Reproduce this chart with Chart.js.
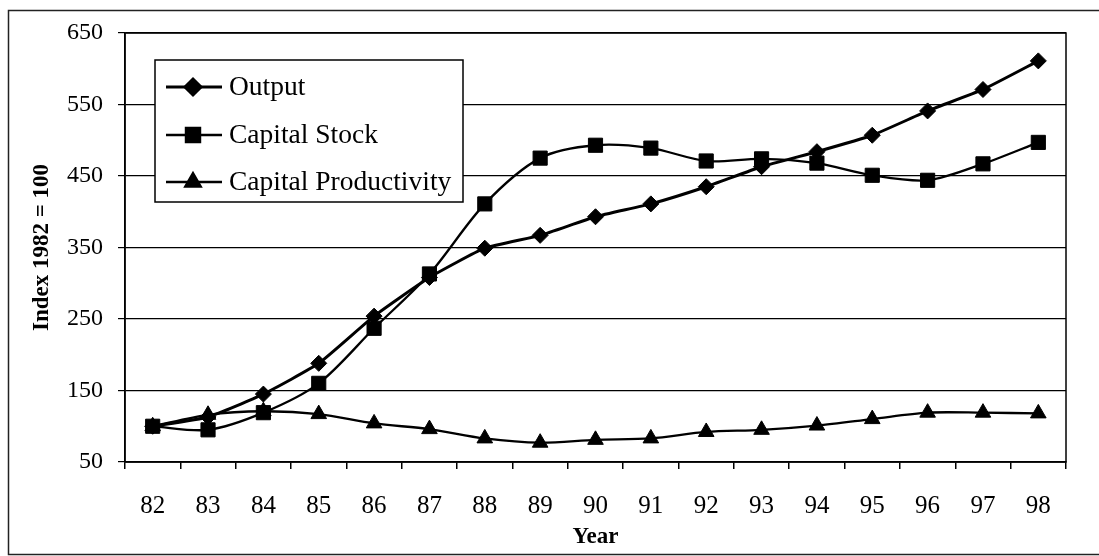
<!DOCTYPE html>
<html>
<head>
<meta charset="utf-8">
<script src="https://cdn.jsdelivr.net/npm/chart.js@4/dist/chart.umd.min.js"></script>
<style>
  html, body { margin: 0; padding: 0; background: #fff; }
  #wrap { position: relative; width: 1099px; height: 556px; }
  canvas { display: block; }
</style>
</head>
<body>
<div id="wrap"><canvas id="c" width="1099" height="556"></canvas></div>
<script>
const years = ['82','83','84','85','86','87','88','89','90','91','92','93','94','95','96','97','98'];
const output = [100,113,145,188,254,308,349,367,393,411,435,463,484,507,541,571,611];
const capitalStock = [100,95,119,160,237,313,411,475,493,489,471,474,468,451,444,467,497];
const capitalProductivity = [100,116,121,117,104,96,83,77,81,83,92,95,101,110,119,119,118];
const seriesNames = ['Output','Capital Stock','Capital Productivity'];
const yMin = 50, yMax = 650, yStep = 100;

const FONT = "'Liberation Serif', 'Times New Roman', serif";

const framePlugin = {
  id: 'frame',
  beforeDraw(chart) {
    const ctx = chart.ctx;
    ctx.save();
    ctx.fillStyle = '#fff';
    ctx.fillRect(0, 0, chart.width, chart.height);
    ctx.strokeStyle = '#222';
    ctx.lineWidth = 1.5;
    ctx.strokeRect(8.5, 10.5, 1100, 544);
    ctx.restore();
  },
  afterDatasetsDraw(chart) {
    const ctx = chart.ctx;
    const a = chart.chartArea;
    ctx.save();
    ctx.strokeStyle = '#000';
    ctx.lineWidth = 1.5;
    ctx.strokeRect(a.left, a.top, a.right - a.left, a.bottom - a.top);
    // legend box
    const bx = 155, by = 60, bw = 308, bh = 142;
    ctx.fillStyle = '#fff';
    ctx.fillRect(bx, by, bw, bh);
    ctx.strokeRect(bx, by, bw, bh);
    const rows = [87, 135, 182];
    chart.data.datasets.forEach((ds, i) => {
      const y = rows[i];
      ctx.strokeStyle = '#000';
      ctx.lineWidth = ds.borderWidth;
      ctx.beginPath();
      ctx.moveTo(166, y);
      ctx.lineTo(222, y);
      ctx.stroke();
      ctx.fillStyle = '#000';
      Chart.helpers.drawPoint(ctx, {
        pointStyle: ds.pointStyle,
        radius: ds.pointRadius,
        rotation: 0,
        borderWidth: 1
      }, 193, y);
      ctx.fill();
      ctx.fillStyle = '#000';
      ctx.font = '27.5px ' + FONT;
      ctx.textBaseline = 'middle';
      ctx.textAlign = 'left';
      ctx.fillText(ds.label, 229, y + 1);
    });
    ctx.restore();
  }
};

function mk(label, data, style, radius, width, tension) {
  return {
    label, data,
    borderColor: '#000',
    backgroundColor: '#000',
    pointBackgroundColor: '#000',
    pointBorderColor: '#000',
    pointStyle: style,
    pointRadius: radius,
    pointHoverRadius: radius,
    pointBorderWidth: 1,
    borderWidth: width,
    tension: tension,
    fill: false
  };
}

new Chart(document.getElementById('c'), {
  type: 'line',
  data: {
    labels: years,
    datasets: [
      mk(seriesNames[0], output, 'rectRot', 8, 3, 0.15),
      mk(seriesNames[1], capitalStock, 'rect', 10, 2.3, 0.3),
      mk(seriesNames[2], capitalProductivity, 'triangle', 9, 2.3, 0.3)
    ]
  },
  options: {
    responsive: false,
    animation: false,
    devicePixelRatio: 1,
    layout: { padding: { top: 33, right: 33, left: 0, bottom: 0 } },
    plugins: { legend: { display: false }, tooltip: { enabled: false } },
    scales: {
      x: {
        offset: true,
        afterFit(s) { s.height = 94; },
        grid: { offset: true, drawOnChartArea: false, drawTicks: true, tickLength: 7, color: '#000', lineWidth: 1.5 },
        border: { display: true, color: '#000', width: 1.5 },
        ticks: { color: '#000', font: { family: FONT, size: 25 }, padding: 22, autoSkip: false, maxRotation: 0 },
        title: { display: true, text: 'Year', color: '#000', font: { family: FONT, size: 23, weight: 'bold' }, padding: { top: 0, bottom: 5 } }
      },
      y: {
        min: yMin, max: yMax,
        afterFit(s) { s.width = 125; },
        grid: { color: '#000', lineWidth: 1.2, tickLength: 7, drawTicks: true },
        border: { display: true, color: '#000', width: 1.5 },
        ticks: { stepSize: yStep, color: '#000', font: { family: FONT, size: 24 }, padding: 15 },
        title: { display: true, text: 'Index 1982 = 100', color: '#000', font: { family: FONT, size: 23, weight: 'bold' }, padding: { top: 28, bottom: 0 } }
      }
    }
  },
  plugins: [framePlugin]
});
</script>
</body>
</html>
